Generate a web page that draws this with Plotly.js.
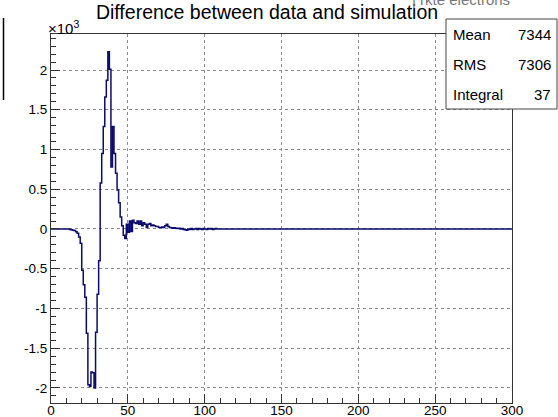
<!DOCTYPE html>
<html>
<head>
<meta charset="utf-8">
<script src="https://cdn.plot.ly/plotly-3.0.1.min.js"></script>
<style>
  html, body { margin: 0; padding: 0; background: #ffffff; }
  #chart { width: 558px; height: 417px; }
</style>
</head>
<body>
<div id="chart"></div>
<script>
// Histogram bin low edges (step starts); the last entry closes the histogram at 300
const binEdges = [
  0, 12, 13, 14, 15, 16, 17, 18, 19, 20, 21, 22, 23, 24, 25, 26, 27, 28, 29,
  30, 31, 32, 33, 34, 35, 36, 37, 38, 39, 40, 41, 42, 43, 44, 45, 46, 47, 48, 49,
  50, 51, 52, 53, 54, 55, 56, 57, 58, 59, 60, 61, 62, 63, 64, 65, 66, 67, 68, 69,
  70, 71, 72, 73, 74, 75, 76, 77, 78, 79, 80, 81, 82, 83, 84, 85, 86, 87, 88, 89,
  90, 91, 92, 93, 94, 95, 96, 97, 98, 99, 100, 101, 102, 103, 104, 105, 106, 107,
  108, 300
];

// Data minus simulation, per bin
const binCounts = [
  0, -5, -10, -15, -20, -35, -55, -100, -180, -520, -700, -860, -1310, -1960, -1980, -1800, -1810, -2000, -1300,
  -820, -400, 580, 950, 1290, 1660, 1870, 2230, 2010, 780, 1290, 950, 700, 490, 330, 150, 40, -80, -120, 60,
  -40, 100, -30, 110, 80, 70, 100, 60, 100, 40, 80, 60, 20, 60, 70, 40, 50, 40, 30, 30,
  20, 20, 25, 20, 40, 60, 30, 20, 15, 10, 15, 10, 5, 10, 0, 5, -5, -10, -15, 0,
  -5, 5, -5, 0, 5, -5, 5, 0, -5, 5, 0, -5, 5, 0, 5, -5, 0, 5,
  0, 0
];

// Axis labelling
const yTickVals = [-2000, -1500, -1000, -500, 0, 500, 1000, 1500, 2000];
const yTickText = ['-2', '-1.5', '-1', '-0.5', '0', '0.5', '1', '1.5', '2'];
const xTickVals = [0, 50, 100, 150, 200, 250, 300];

// Statistics box entries
const statNames  = ['Mean', 'RMS', 'Integral'];
const statValues = ['7344', '7306', '37'];

const FONT = '"Liberation Sans", Arial, Helvetica, sans-serif';
const AXIS = '#333333';

const trace = {
  type: 'scatter',
  mode: 'lines',
  x: binEdges,
  y: binCounts,
  line: { shape: 'hv', color: '#0b0b6e', width: 1.5 },
  hoverinfo: 'x+y'
};

// plot area in pixels: x 51..512, y 34..403
const L = 51, R = 512, T = 34, B = 403;
const px = v => (v - L) / (R - L);
const py = v => (B - v) / (B - T);

const statRows = [34, 64, 94];
const annotations = [];
statNames.forEach((name, i) => {
  annotations.push({
    xref: 'paper', yref: 'paper', x: px(451), y: py(statRows[i]),
    xanchor: 'left', yanchor: 'middle', showarrow: false,
    text: name, font: { family: FONT, size: 15, color: '#000' }
  });
  annotations.push({
    xref: 'paper', yref: 'paper', x: px(553), y: py(statRows[i]),
    xanchor: 'right', yanchor: 'middle', showarrow: false,
    text: statValues[i], font: { family: FONT, size: 15, color: '#000' }
  });
});

// exponent of the y axis
annotations.push({
  xref: 'paper', yref: 'paper', x: px(46), y: py(27),
  xanchor: 'left', yanchor: 'middle', showarrow: false,
  text: '×10<sup>3</sup>', font: { family: FONT, size: 15, color: '#000' }
});

// header of the statistics box, mostly above the canvas
annotations.push({
  xref: 'paper', yref: 'paper', x: px(410), y: py(-1),
  xanchor: 'left', yanchor: 'middle', showarrow: false,
  text: '| rkte electrons', font: { family: FONT, size: 15, color: '#777' }
});

const shapes = [
  {
    type: 'rect', xref: 'paper', yref: 'paper',
    x0: px(446), x1: px(557), y0: py(109), y1: py(19),
    fillcolor: '#ffffff', line: { color: '#444', width: 1 }, layer: 'above'
  },
  {
    type: 'line', xref: 'paper', yref: 'paper',
    x0: px(3.5), x1: px(3.5), y0: py(18), y1: py(100),
    line: { color: '#000', width: 1.5 }
  }
];

const layout = {
  width: 558,
  height: 417,
  margin: { l: L, r: 558 - R, t: T, b: 417 - B, pad: 0 },
  paper_bgcolor: '#ffffff',
  plot_bgcolor: '#ffffff',
  showlegend: false,
  font: { family: FONT, size: 13, color: '#000' },
  title: {
    text: 'Difference between data and simulation',
    font: { family: FONT, size: 19.5, color: '#000' },
    x: 267 / 558, xanchor: 'center',
    y: 1 - 12 / 417, yanchor: 'middle'
  },
  xaxis: {
    range: [0, 300],
    tickmode: 'array',
    tickvals: xTickVals,
    ticks: 'inside', ticklen: 9, tickwidth: 1, tickcolor: AXIS,
    ticklabelstandoff: -5,
    minor: { tickmode: 'linear', tick0: 0, dtick: 10, ticks: 'inside', ticklen: 5, tickcolor: AXIS, showgrid: false },
    showline: true, linecolor: AXIS, linewidth: 1, mirror: true,
    showgrid: true, gridcolor: '#8a8a8a', griddash: 'dot', gridwidth: 1,
    zeroline: false,
    tickfont: { family: FONT, size: 13.5, color: '#000' }
  },
  yaxis: {
    range: [-2189, 2453],
    tickmode: 'array',
    tickvals: yTickVals,
    ticktext: yTickText,
    ticks: 'inside', ticklen: 9, tickwidth: 1, tickcolor: AXIS,
    minor: { tickmode: 'linear', tick0: 0, dtick: 100, ticks: 'inside', ticklen: 5, tickcolor: AXIS, showgrid: false },
    showline: true, linecolor: AXIS, linewidth: 1, mirror: true,
    showgrid: true, gridcolor: '#8a8a8a', griddash: 'dot', gridwidth: 1,
    zeroline: false,
    tickfont: { family: FONT, size: 13.5, color: '#000' }
  },
  shapes: shapes,
  annotations: annotations
};

Plotly.newPlot('chart', [trace], layout, { displayModeBar: false, staticPlot: true });
</script>
</body>
</html>
